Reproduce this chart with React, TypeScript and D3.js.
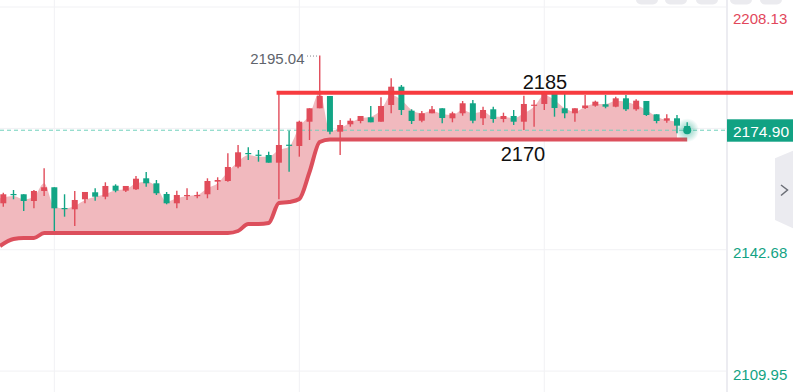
import React from "react";
import * as d3 from "d3";

const W = 793;
const H = 392;
const plotRight = 727;

// candle OHLC
const opens = [
  2155.2, 2157.71, 2157.63, 2155.82, 2158.52, 2159.52, 2153.93, 2153.58, 2156.28, 2158.17,
  2156.98, 2159.95, 2158.6, 2158.98, 2161.94, 2160.59, 2157.71, 2155.2, 2157.28, 2157.28,
  2157.63, 2161.03, 2161.21, 2165.07, 2168.76, 2168.31, 2168.22, 2166.15, 2171.0, 2170.65,
  2177.2, 2180.82, 2184.13, 2174.51, 2176.5, 2177.39, 2178.39, 2177.2, 2181.71, 2186.64,
  2180.17, 2177.47, 2179.47, 2180.82, 2178.12, 2179.47, 2182.17, 2178.12, 2180.55, 2177.93,
  2178.74, 2177.2, 2181.63, 2181.98, 2184.67, 2180.82, 2179.47, 2180.9, 2181.52, 2181.9,
  2181.25, 2183.51, 2180.55, 2182.79, 2179.2, 2177.47, 2178.12, 2176.04,
];
const highs = [
  2158.06, 2158.79, 2157.63, 2158.79, 2164.64, 2159.52, 2157.63, 2158.52, 2158.25, 2159.25,
  2160.86, 2160.32, 2159.87, 2162.56, 2163.64, 2161.48, 2158.25, 2158.6, 2159.25, 2158.33,
  2161.94, 2162.21, 2168.68, 2170.92, 2170.3, 2169.57, 2169.11, 2184.67, 2174.78, 2177.47,
  2180.82, 2195.04, 2184.13, 2177.66, 2178.12, 2178.74, 2181.44, 2183.78, 2188.91, 2187.1,
  2180.55, 2180.09, 2181.44, 2180.82, 2179.9, 2182.79, 2183.06, 2181.25, 2181.25, 2179.63,
  2180.36, 2184.21, 2183.06, 2185.48, 2184.67, 2184.67, 2180.82, 2184.4, 2182.87, 2184.4,
  2183.95, 2184.4, 2183.24, 2182.79, 2179.2, 2179.2, 2179.01, 2177.04,
];
const lows = [
  2154.28, 2156.28, 2153.12, 2153.85, 2157.17, 2147.73, 2151.59, 2149.08, 2155.2, 2155.9,
  2156.28, 2158.17, 2158.25, 2158.79, 2159.68, 2157.44, 2154.93, 2153.85, 2156.09, 2156.55,
  2156.55, 2158.79, 2161.03, 2164.64, 2166.88, 2166.42, 2166.15, 2156.28, 2163.72, 2167.77,
  2172.27, 2180.82, 2173.81, 2168.22, 2175.86, 2176.77, 2177.04, 2177.2, 2179.47, 2179.01,
  2176.58, 2177.04, 2179.47, 2176.77, 2177.04, 2178.82, 2176.77, 2176.31, 2176.93, 2177.04,
  2176.31, 2174.97, 2175.86, 2180.36, 2178.55, 2178.12, 2177.2, 2180.63, 2181.25, 2180.82,
  2181.09, 2180.09, 2180.17, 2178.74, 2176.77, 2176.93, 2174.08, 2174.9,
];
const closes = [
  2157.63, 2157.55, 2155.82, 2158.52, 2159.52, 2153.85, 2153.77, 2156.09, 2158.25, 2156.98,
  2159.87, 2158.6, 2159.87, 2161.83, 2160.59, 2157.9, 2155.2, 2157.44, 2157.44, 2157.44,
  2161.21, 2161.48, 2164.99, 2168.95, 2168.6, 2168.14, 2166.15, 2170.92, 2170.84, 2177.2,
  2180.82, 2184.13, 2174.51, 2176.31, 2177.47, 2178.74, 2177.04, 2181.44, 2186.64, 2180.36,
  2177.39, 2179.47, 2180.55, 2178.2, 2179.47, 2182.17, 2177.47, 2180.36, 2177.93, 2178.74,
  2177.2, 2181.98, 2181.79, 2184.94, 2180.9, 2179.47, 2180.82, 2181.57, 2182.6, 2181.25,
  2183.51, 2180.55, 2182.87, 2179.01, 2177.39, 2178.12, 2176.13, 2174.9,
];

// shaded band: smoothed upper edge and the trailing stop line
const bandUpper = [
  2156.55, 2157.17, 2156.28, 2156.98, 2160.59, 2154.28, 2153.85, 2154.47, 2156.09, 2156.98,
  2157.63, 2158.71, 2158.98, 2160.59, 2161.03, 2159.68, 2155.63, 2156.55, 2157.17, 2157.44,
  2159.25, 2160.59, 2163.72, 2166.42, 2168.22, 2167.77, 2167.77, 2169.57, 2170.46, 2175.86,
  2179.01, 2185.21, 2174.7, 2175.51, 2176.93, 2178.12, 2178.55, 2180.36, 2184.4, 2183.06,
  2180.36, 2179.47, 2180.17, 2179.28, 2179.01, 2180.36, 2179.47, 2179.9, 2178.55, 2178.55,
  2178.12, 2179.47, 2181.25, 2184.4, 2183.06, 2180.82, 2179.9, 2181.25, 2181.98, 2181.98,
  2182.87, 2182.6, 2181.71, 2180.36, 2178.55, 2177.66, 2177.2, 2176.04,
];
const bandLower = [
  2143.69, 2145.57, 2145.84, 2145.84, 2147.19, 2147.19, 2147.19, 2147.19, 2147.19, 2147.19,
  2147.19, 2147.19, 2147.19, 2147.19, 2147.19, 2147.19, 2147.19, 2147.19, 2147.19, 2147.19,
  2147.19, 2147.19, 2147.19, 2147.73, 2149.62, 2149.62, 2149.89, 2155.28, 2155.55, 2156.36,
  2163.64, 2171.73, 2172.4, 2172.4, 2172.4, 2172.4, 2172.4, 2172.4, 2172.4, 2172.4,
  2172.4, 2172.4, 2172.4, 2172.4, 2172.4, 2172.4, 2172.4, 2172.4, 2172.4, 2172.4,
  2172.4, 2172.4, 2172.4, 2172.4, 2172.4, 2172.4, 2172.4, 2172.4, 2172.4, 2172.4,
  2172.4, 2172.4, 2172.4, 2172.4, 2172.4, 2172.4, 2172.4, 2172.4,
];

const yTicks = [2208.13, 2175.4, 2142.68, 2109.95];
const xGridIdx = [5, 29, 53];
const resistance = 2185;
const resistanceStart = 27;
const supportLabel = "2170";
const peakIndex = 31;
const peakLabel = "2195.04";
const lastPrice = 2174.9;

const UP = "#e14c5a";
const DOWN = "#12a585";
const FONT = "'Liberation Sans', Arial, sans-serif";

export default function App() {
  const n = closes.length;
  const idx = d3.range(n);
  const x = d3.scaleLinear().domain([0, n - 1]).range([3.3, 687.2]);
  const y = d3.scaleLinear().domain([2109.95, 2208.13]).range([371.1, 7]);
  const px = (i: number) => (i === 0 ? 0 : x(i));

  const area = d3
    .area<number>()
    .x(px)
    .y0((i) => y(bandLower[i]))
    .y1((i) => y(bandUpper[i]))
    .curve(d3.curveMonotoneX);
  const lowerLine = d3
    .line<number>()
    .x(px)
    .y((i) => y(bandLower[i]))
    .curve(d3.curveMonotoneX);

  const bodyW = 6;
  const yLast = y(lastPrice);
  const yRes = y(resistance);
  const tabs = [636, 665, 696, 730, 760];

  return (
    <svg
      width={W}
      height={H}
      style={{ position: "fixed", left: 0, top: 0, background: "#fff" }}
      fontFamily={FONT}
    >
      <defs>
        <radialGradient id="glow">
          <stop offset="0%" stopColor="#13a384" stopOpacity={0.5} />
          <stop offset="55%" stopColor="#13a384" stopOpacity={0.25} />
          <stop offset="100%" stopColor="#13a384" stopOpacity={0} />
        </radialGradient>
      </defs>
      <rect width={W} height={H} fill="#fff" />

      {/* grid */}
      {yTicks.map((t) => (
        <line key={t} x1={0} x2={plotRight} y1={y(t)} y2={y(t)} stroke="#f1f1f4" strokeWidth={1} />
      ))}
      {xGridIdx.map((i) => (
        <line key={i} x1={x(i)} x2={x(i)} y1={0} y2={H} stroke="#f1f1f4" strokeWidth={1} />
      ))}
      <line x1={plotRight} x2={plotRight} y1={0} y2={H} stroke="#ececf1" strokeWidth={2} />

      {/* band */}
      <path d={area(idx.slice(0, n - 1)) || ""} fill="#f1b9be" />
      <path d={lowerLine(idx) || ""} fill="none" stroke="#dc4f5c" strokeWidth={4} />

      {/* last price dashed line */}
      <line
        x1={0}
        x2={plotRight}
        y1={yLast}
        y2={yLast}
        stroke="#6fd0bb"
        strokeWidth={1}
        strokeDasharray="4 3"
      />

      {/* candles */}
      {idx.map((i) => {
        const o = opens[i];
        const c = closes[i];
        const col = c >= o ? UP : DOWN;
        const top = y(Math.max(o, c));
        const bot = y(Math.min(o, c));
        return (
          <g key={i}>
            <line x1={x(i)} x2={x(i)} y1={y(highs[i])} y2={y(lows[i])} stroke={col} strokeWidth={1.4} />
            <rect x={x(i) - bodyW / 2} y={top} width={bodyW} height={Math.max(1.2, bot - top)} fill={col} />
          </g>
        );
      })}

      {/* resistance line */}
      <line x1={x(resistanceStart) - 2.3} x2={W} y1={yRes} y2={yRes} stroke="#f73b3f" strokeWidth={4} />
      <text x={545} y={89} textAnchor="middle" fontSize={20} fill="#111">
        {String(resistance)}
      </text>
      <text x={523} y={161} textAnchor="middle" fontSize={20} fill="#111">
        {supportLabel}
      </text>

      {/* peak marker */}
      <text x={304.5} y={64} textAnchor="end" fontSize={15} fill="#60646c">
        {peakLabel}
      </text>
      <line
        x1={307}
        x2={x(peakIndex) - 1}
        y1={y(highs[peakIndex]) + 0.5}
        y2={y(highs[peakIndex]) + 0.5}
        stroke="#80848c"
        strokeWidth={1}
        strokeDasharray="1 2"
      />

      {/* last price glow */}
      <circle cx={x(n - 1)} cy={yLast} r={12} fill="url(#glow)" />
      <circle cx={x(n - 1)} cy={yLast} r={4} fill="#13a384" />

      {/* right axis */}
      {yTicks
        .filter((t) => t !== 2175.4)
        .map((t, k) => (
          <text
            key={t}
            x={733}
            y={Math.max(24, y(t) + 8.5)}
            fontSize={15}
            fill={k === 0 ? "#e2475b" : "#13a384"}
          >
            {t.toFixed(2)}
          </text>
        ))}
      <rect x={plotRight} y={119.3} width={W - plotRight} height={22.4} fill="#11a283" />
      <text x={733} y={136.5} fontSize={15.5} fill="#fff">
        {lastPrice.toFixed(2)}
      </text>

      {/* top tabs */}
      {tabs.map((tx) => (
        <rect key={tx} x={tx} y={-20} width={22} height={24.5} rx={5} fill="#ebebef" />
      ))}

      {/* side toggle */}
      <polygon points="775,158.3 793,150.7 793,228.3 775,220" fill="#ebebf0" />
      <polyline points="781,185 787.5,190 781,195.5" fill="none" stroke="#6b6e76" strokeWidth={1.5} />
    </svg>
  );
}
